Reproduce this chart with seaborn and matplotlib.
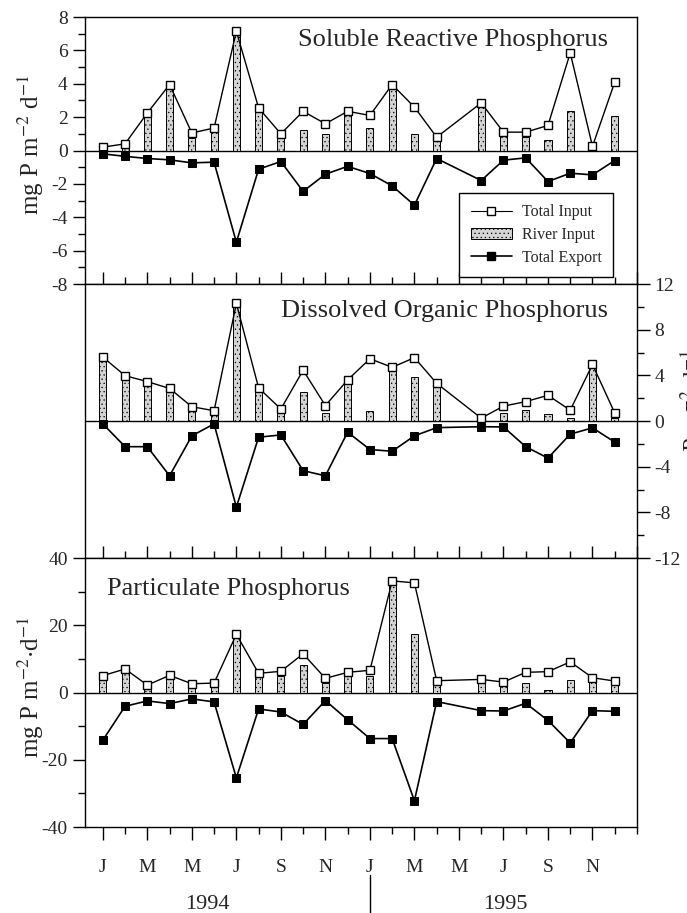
import numpy as np
import pandas as pd
import seaborn as sns
import matplotlib.pyplot as plt
import matplotlib.transforms as mtransforms
from matplotlib.lines import Line2D
from matplotlib.patches import Patch
from matplotlib.ticker import MultipleLocator

sns.set_theme(style="ticks")
plt.rcParams["font.family"] = ["Liberation Serif", "DejaVu Serif"]
plt.rcParams["mathtext.fontset"] = "stix"
plt.rcParams["axes.unicode_minus"] = False
plt.rcParams["hatch.linewidth"] = 0.4

# month index, 0 = Jan 1994 ... 23 = Dec 1995 (no sample in May 1995)
months = [0, 1, 2, 3, 4, 5, 6, 7, 8, 9, 10, 11,
          12, 13, 14, 15, 17, 18, 19, 20, 21, 22, 23]
month_ticks = ["J", "M", "M", "J", "S", "N", "J", "M", "M", "J", "S", "N"]

# Soluble reactive phosphorus
srp_total = [0.2, 0.4, 2.25, 3.95, 1.05, 1.35, 7.15, 2.55, 1.0, 2.35, 1.6, 2.35,
             2.1, 3.95, 2.6, 0.8, 2.85, 1.1, 1.1, 1.5, 5.85, 0.25, 4.1]
srp_river = [0.1, 0.25, 2.15, 3.8, 0.75, 1.25, 7.0, 2.45, 0.85, 1.2, 1.0, 2.3,
             1.35, 3.85, 1.0, 0.75, 2.65, 0.95, 0.8, 0.65, 2.35, 0.2, 2.05]
srp_export = [-0.2, -0.35, -0.48, -0.56, -0.74, -0.7, -5.5, -1.12, -0.66, -2.45, -1.42, -0.95,
              -1.38, -2.12, -3.28, -0.48, -1.8, -0.58, -0.44, -1.86, -1.36, -1.46, -0.6]

# Dissolved organic phosphorus
dop_total = [5.6, 3.97, 3.45, 2.85, 1.25, 0.9, 10.3, 2.9, 1.05, 4.45, 1.35, 3.6,
             5.45, 4.7, 5.55, 3.3, 0.25, 1.3, 1.7, 2.25, 0.95, 4.95, 0.7]
dop_river = [5.4, 3.7, 3.3, 2.5, 0.9, 0.6, 10.1, 2.8, 0.8, 2.5, 0.7, 3.4,
             0.85, 4.6, 3.85, 3.15, 0.1, 0.7, 1.0, 0.65, 0.3, 4.8, 0.3]
dop_export = [-0.25, -2.25, -2.25, -4.8, -1.3, -0.25, -7.55, -1.42, -1.22, -4.35, -4.8, -0.98,
              -2.5, -2.65, -1.3, -0.58, -0.5, -0.52, -2.25, -3.25, -1.15, -0.6, -1.85]

# Particulate phosphorus
pp_total = [5.0, 7.0, 2.2, 5.1, 2.6, 2.8, 17.3, 5.7, 6.3, 11.5, 4.2, 6.0,
            6.6, 33.2, 32.6, 3.5, 3.9, 3.1, 6.0, 6.2, 9.1, 4.4, 3.4]
pp_river = [4.2, 6.4, 1.2, 4.1, 1.4, 1.9, 16.8, 5.2, 4.8, 8.3, 2.7, 5.5,
            5.0, 33.0, 17.3, 2.6, 3.4, 1.9, 2.9, 0.8, 3.7, 3.7, 2.6]
pp_export = [-14.2, -4.1, -2.5, -3.3, -1.9, -2.8, -25.4, -4.9, -5.8, -9.5, -2.4, -8.1,
             -13.7, -13.7, -32.2, -2.7, -5.4, -5.5, -3.2, -8.3, -15.0, -5.4, -5.6]

panels = [
    ("Soluble Reactive Phosphorus", srp_total, srp_river, srp_export, 8, 2, 1),
    ("Dissolved Organic Phosphorus", dop_total, dop_river, dop_export, 12, 4, 2),
    ("Particulate Phosphorus", pp_total, pp_river, pp_export, 40, 20, 10),
]

W, H = 687, 913
fig = plt.figure(figsize=(W / 100, H / 100), dpi=100)
left, right = 85 / W, 637 / W
edges = [17, 284, 558, 827]  # pixel rows of the panel boundaries
axes = []
for i in range(3):
    bottom = 1 - edges[i + 1] / H
    height = (edges[i + 1] - edges[i]) / H
    axes.append(fig.add_axes([left, bottom, right - left, height]))

bar_kw = dict(color="#d4d4d4", edgecolor="black", linewidth=0.7, hatch="....")
ylabels = [r"mg P m$^{-2}$ d$^{-1}$", None, r"mg P m$^{-2}$$\cdot$d$^{-1}$"]

for i, (ax, (title, total, river, export, lim, major, minor)) in enumerate(zip(axes, panels)):
    df = pd.DataFrame({"month": months, "total": total, "river": river, "export": export})

    sns.barplot(data=df, x="month", y="river", native_scale=True, width=0.32,
                errorbar=None, saturation=1, ax=ax, zorder=2, **bar_kw)
    ax.axhline(0, color="black", lw=1.0, zorder=1.5)
    sns.lineplot(data=df, x="month", y="total", ax=ax, color="black", lw=1.0,
                 marker="s", markersize=6, markerfacecolor="white",
                 markeredgecolor="black", markeredgewidth=1.0, zorder=4)
    sns.lineplot(data=df, x="month", y="export", ax=ax, color="black", lw=1.2,
                 marker="s", markersize=6, markerfacecolor="black",
                 markeredgecolor="black", zorder=4)

    ax.set_xlim(-0.8, 24.0)
    ax.set_ylim(-lim, lim)
    ax.set_xlabel("")
    ax.set_ylabel("")
    ax.xaxis.set_major_locator(MultipleLocator(2))
    ax.xaxis.set_minor_locator(MultipleLocator(1))
    ax.yaxis.set_major_locator(MultipleLocator(major))
    ax.yaxis.set_minor_locator(MultipleLocator(minor))
    for sp in ax.spines.values():
        sp.set_visible(True)
        sp.set_linewidth(1.0)
        sp.set_color("black")
    ax.tick_params(axis="both", which="major", labelsize=14, width=1.0, length=9, color="black")
    ax.tick_params(axis="both", which="minor", width=1.0, length=5, color="black")

    if i < 2:
        ax.tick_params(axis="x", which="both", direction="in", labelbottom=False)
    else:
        ax.tick_params(axis="x", which="both", direction="out")
        ax.tick_params(axis="x", which="major", pad=14)
        ax.set_xticks(range(0, 24, 2))
        ax.set_xticklabels(month_ticks)

    if i == 1:
        ax.yaxis.tick_right()
        ax.tick_params(axis="y", which="both", left=False, direction="out")
    else:
        ax.tick_params(axis="y", which="both", right=False, direction="out")
        ax.set_ylabel(ylabels[i], fontsize=18)
        ax.yaxis.set_label_coords(-0.07, 0.52)

    if i == 2:
        ax.text(0.04, 0.885, title, transform=ax.transAxes, fontsize=19,
                ha="left", va="center")
    else:
        ax.text(0.947, 0.915 if i == 0 else 0.9, title, transform=ax.transAxes,
                fontsize=19, ha="right", va="center")

# legend in the top panel
handles = [
    Line2D([], [], color="black", lw=0.8, marker="s", markersize=6,
           markerfacecolor="white", markeredgecolor="black"),
    Patch(facecolor="#d4d4d4", edgecolor="black", linewidth=0.7, hatch="...."),
    Line2D([], [], color="black", lw=1.2, marker="s", markersize=6,
           markerfacecolor="black"),
]
axes[0].legend(handles, ["Total Input", "River Input", "Total Export"],
               loc="lower right", bbox_to_anchor=(0.956, 0.026), borderaxespad=0,
               fontsize=11.5, frameon=True, fancybox=False, edgecolor="black",
               framealpha=1, handlelength=2.6, borderpad=0.7, labelspacing=0.42,
               handletextpad=0.6)
axes[0].get_legend().get_frame().set_linewidth(1.0)

# right-hand axis label of the middle panel, clipped by the page edge as in the original
fig.text(679 / W, 0.54, ylabels[0], rotation=90, fontsize=18, ha="left", va="center")

# year labels under the bottom panel
ax3 = axes[2]
trans = mtransforms.blended_transform_factory(ax3.transData, ax3.transAxes)
ax3.text(4.7, -0.287, "1994", transform=trans, fontsize=16, ha="center", va="center")
ax3.text(18.1, -0.287, "1995", transform=trans, fontsize=16, ha="center", va="center")
ax3.plot([12, 12], [-0.18, -0.33], transform=trans, color="black", lw=1.0, clip_on=False)

fig.savefig("out.png", dpi=100)
